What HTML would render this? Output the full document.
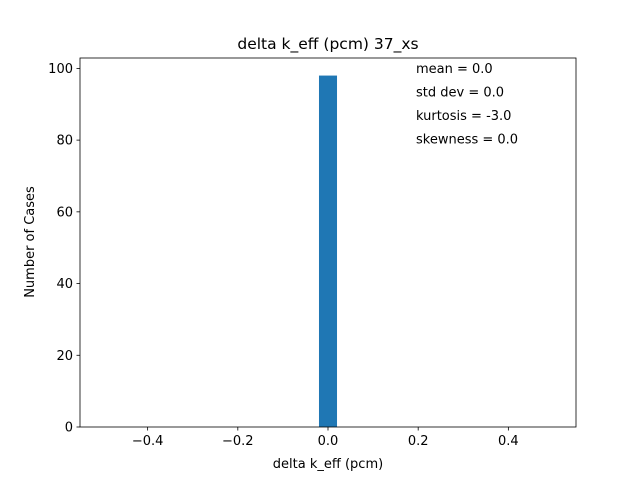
<!DOCTYPE html>
<html><head><meta charset="utf-8"><style>
body{margin:0;background:#fff;}
svg{font-family:"DejaVu Sans","Liberation Sans",sans-serif;}
</style></head><body>
<svg id="c" width="640" height="480"></svg>
<script>
const binLefts=[-0.02];
const binWidths=[0.04];
const counts=[98];
const xTicks=[-0.4,-0.2,0.0,0.2,0.4];
const xTickLabels=["−0.4","−0.2","0.0","0.2","0.4"];
const yTicks=[0,20,40,60,80,100];
const stats=["mean = 0.0","std dev = 0.0","kurtosis = -3.0","skewness = 0.0"];
const L=80,R=576,T=58,B=427,xmin=-0.55,xmax=0.55,ymin=0,ymax=102.9;
const sx=v=>L+(v-xmin)/(xmax-xmin)*(R-L);
const sy=v=>B-(v-ymin)/(ymax-ymin)*(B-T);
const svg=document.getElementById('c');
const NS='http://www.w3.org/2000/svg';
function mk(tag,attrs,txt){const e=document.createElementNS(NS,tag);for(const k in attrs)e.setAttribute(k,attrs[k]);if(txt!==undefined)e.textContent=txt;svg.appendChild(e);return e;}
counts.forEach((c,i)=>{
 const r=mk('rect',{x:sx(binLefts[i]),y:sy(c),width:sx(binLefts[i]+binWidths[i])-sx(binLefts[i]),height:sy(0)-sy(c),fill:'#1f77b4'});
 
 
});
const f=mk('rect',{x:L,y:T,width:R-L,height:B-T,fill:'none',stroke:'#000','stroke-width':0.8});


xTicks.forEach((t,i)=>{
 const x=sx(t);
 mk('line',{x1:x,x2:x,y1:B,y2:B+3.5,stroke:'#000','stroke-width':0.8});
 const tx=mk('text',{x:x,y:B+18,'text-anchor':'middle','font-size':13},xTickLabels[i]);
 
 
});
yTicks.forEach(t=>{
 const y=sy(t);
 mk('line',{x1:L,x2:L-3.5,y1:y,y2:y,stroke:'#000','stroke-width':0.8});
 const tx=mk('text',{x:L-7,y:y+4.5,'text-anchor':'end','font-size':13},String(t));
 
 
});
stats.forEach((s,i)=>{
 const tx=mk('text',{x:416,y:73+i*23.5,'font-size':13},s);
 
 
});
const ti=mk('text',{x:328,y:49,'text-anchor':'middle','font-size':15.5},'delta k_eff (pcm) 37_xs');


const xl=mk('text',{x:328,y:468,'text-anchor':'middle','font-size':13},'delta k_eff (pcm)');


const yl=mk('text',{x:34,y:242,'text-anchor':'middle','font-size':13,transform:'rotate(-90 34 242)'},'Number of Cases');


</script>
</body></html>
